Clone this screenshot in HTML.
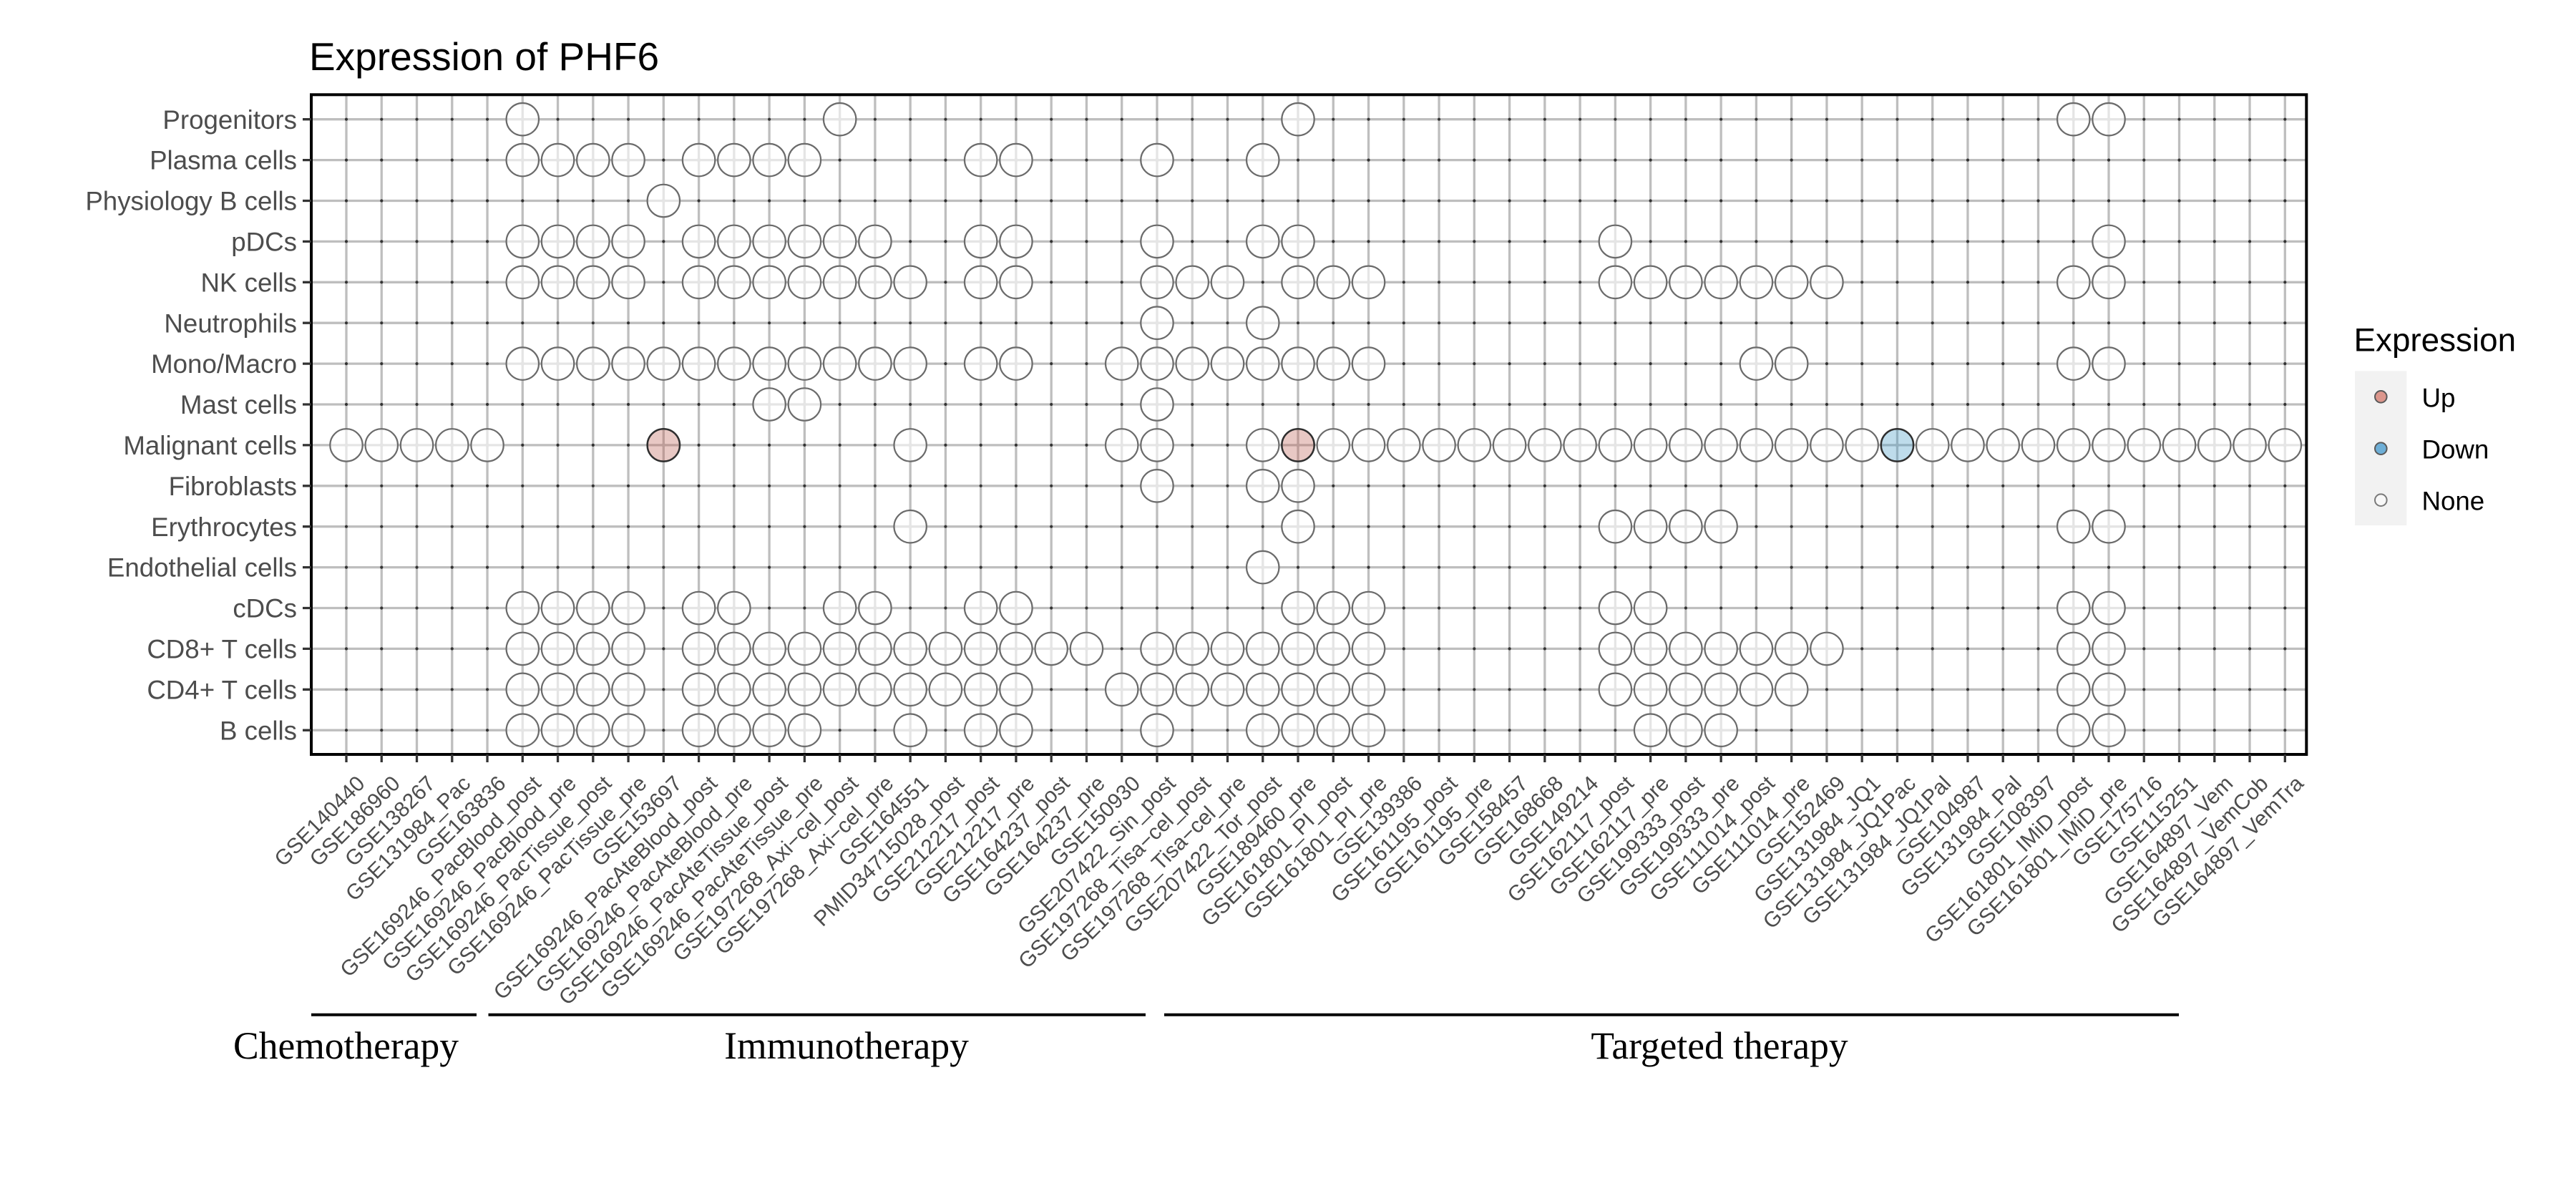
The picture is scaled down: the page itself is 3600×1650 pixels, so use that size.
<!DOCTYPE html>
<html>
<head>
<meta charset="utf-8">
<style>
html,body{margin:0;padding:0;background:#fff;}
svg{display:block;}
</style>
</head>
<body>
<svg xmlns="http://www.w3.org/2000/svg" width="3600" height="1650" viewBox="0 0 3600 1650" font-family="'Liberation Sans', Arial, sans-serif">
<defs>
<g id="n"><circle r="2.8" fill="#bebebe"/><circle r="22.7" fill="#ffffff" fill-opacity="0.6" stroke="#6b6b6b" stroke-width="2.2"/></g>
<g id="u"><circle r="2.8" fill="#bebebe"/><circle r="22.7" fill="rgb(189,98,86)" fill-opacity="0.35" stroke="#2e2e2e" stroke-width="2.5"/></g>
<g id="d"><circle r="2.8" fill="#bebebe"/><circle r="22.7" fill="rgb(69,155,198)" fill-opacity="0.35" stroke="#2e2e2e" stroke-width="2.5"/></g>
</defs>
<rect width="3600" height="1650" fill="#fff"/>

<text x="432" y="98" font-size="55" fill="#000">Expression of PHF6</text>

<!-- grid -->
<line x1="482.35" y1="593.15" x2="3195" y2="593.15" stroke="#bebebe" stroke-width="921.7" stroke-dasharray="3.3 45.96"/>
<line x1="1829.15" y1="165.05" x2="1829.15" y2="1022" stroke="#bebebe" stroke-width="2788.3" stroke-dasharray="3.3 53.6"/>

<!-- dots -->
<g stroke="#333" stroke-width="4.2" stroke-linecap="round" stroke-dasharray="0.01 49.25">
<line x1="484" y1="166.7" x2="3194" y2="166.7"/>
<line x1="484" y1="223.6" x2="3194" y2="223.6"/>
<line x1="484" y1="280.5" x2="3194" y2="280.5"/>
<line x1="484" y1="337.4" x2="3194" y2="337.4"/>
<line x1="484" y1="394.3" x2="3194" y2="394.3"/>
<line x1="484" y1="451.2" x2="3194" y2="451.2"/>
<line x1="484" y1="508.1" x2="3194" y2="508.1"/>
<line x1="484" y1="565" x2="3194" y2="565"/>
<line x1="484" y1="621.9" x2="3194" y2="621.9"/>
<line x1="484" y1="678.8" x2="3194" y2="678.8"/>
<line x1="484" y1="735.7" x2="3194" y2="735.7"/>
<line x1="484" y1="792.6" x2="3194" y2="792.6"/>
<line x1="484" y1="849.5" x2="3194" y2="849.5"/>
<line x1="484" y1="906.4" x2="3194" y2="906.4"/>
<line x1="484" y1="963.3" x2="3194" y2="963.3"/>
<line x1="484" y1="1020.2" x2="3194" y2="1020.2"/>
</g>

<!-- circles -->
<g transform="translate(0,166.7)">
<use href="#n" x="730.3"/><use href="#n" x="1173.64"/><use href="#n" x="1814.02"/><use href="#n" x="2897.74"/><use href="#n" x="2947"/>
</g>
<g transform="translate(0,223.6)">
<use href="#n" x="730.3"/><use href="#n" x="779.56"/><use href="#n" x="828.82"/><use href="#n" x="878.08"/><use href="#n" x="976.6"/><use href="#n" x="1025.86"/><use href="#n" x="1075.12"/><use href="#n" x="1124.38"/><use href="#n" x="1370.68"/><use href="#n" x="1419.94"/><use href="#n" x="1616.98"/><use href="#n" x="1764.76"/>
</g>
<g transform="translate(0,280.5)">
<use href="#n" x="927.34"/>
</g>
<g transform="translate(0,337.4)">
<use href="#n" x="730.3"/><use href="#n" x="779.56"/><use href="#n" x="828.82"/><use href="#n" x="878.08"/><use href="#n" x="976.6"/><use href="#n" x="1025.86"/><use href="#n" x="1075.12"/><use href="#n" x="1124.38"/><use href="#n" x="1173.64"/><use href="#n" x="1222.9"/><use href="#n" x="1370.68"/><use href="#n" x="1419.94"/><use href="#n" x="1616.98"/><use href="#n" x="1764.76"/><use href="#n" x="1814.02"/><use href="#n" x="2257.36"/><use href="#n" x="2947"/>
</g>
<g transform="translate(0,394.3)">
<use href="#n" x="730.3"/><use href="#n" x="779.56"/><use href="#n" x="828.82"/><use href="#n" x="878.08"/><use href="#n" x="976.6"/><use href="#n" x="1025.86"/><use href="#n" x="1075.12"/><use href="#n" x="1124.38"/><use href="#n" x="1173.64"/><use href="#n" x="1222.9"/><use href="#n" x="1272.16"/><use href="#n" x="1370.68"/><use href="#n" x="1419.94"/><use href="#n" x="1616.98"/><use href="#n" x="1666.24"/><use href="#n" x="1715.5"/><use href="#n" x="1814.02"/><use href="#n" x="1863.28"/><use href="#n" x="1912.54"/><use href="#n" x="2257.36"/><use href="#n" x="2306.62"/><use href="#n" x="2355.88"/><use href="#n" x="2405.14"/><use href="#n" x="2454.4"/><use href="#n" x="2503.66"/><use href="#n" x="2552.92"/><use href="#n" x="2897.74"/><use href="#n" x="2947"/>
</g>
<g transform="translate(0,451.2)">
<use href="#n" x="1616.98"/><use href="#n" x="1764.76"/>
</g>
<g transform="translate(0,508.1)">
<use href="#n" x="730.3"/><use href="#n" x="779.56"/><use href="#n" x="828.82"/><use href="#n" x="878.08"/><use href="#n" x="927.34"/><use href="#n" x="976.6"/><use href="#n" x="1025.86"/><use href="#n" x="1075.12"/><use href="#n" x="1124.38"/><use href="#n" x="1173.64"/><use href="#n" x="1222.9"/><use href="#n" x="1272.16"/><use href="#n" x="1370.68"/><use href="#n" x="1419.94"/><use href="#n" x="1567.72"/><use href="#n" x="1616.98"/><use href="#n" x="1666.24"/><use href="#n" x="1715.5"/><use href="#n" x="1764.76"/><use href="#n" x="1814.02"/><use href="#n" x="1863.28"/><use href="#n" x="1912.54"/><use href="#n" x="2454.4"/><use href="#n" x="2503.66"/><use href="#n" x="2897.74"/><use href="#n" x="2947"/>
</g>
<g transform="translate(0,565)">
<use href="#n" x="1075.12"/><use href="#n" x="1124.38"/><use href="#n" x="1616.98"/>
</g>
<g transform="translate(0,621.9)">
<use href="#n" x="484"/><use href="#n" x="533.26"/><use href="#n" x="582.52"/><use href="#n" x="631.78"/><use href="#n" x="681.04"/><use href="#u" x="927.34"/><use href="#n" x="1272.16"/><use href="#n" x="1567.72"/><use href="#n" x="1616.98"/><use href="#n" x="1764.76"/><use href="#u" x="1814.02"/><use href="#n" x="1863.28"/><use href="#n" x="1912.54"/><use href="#n" x="1961.8"/><use href="#n" x="2011.06"/><use href="#n" x="2060.32"/><use href="#n" x="2109.58"/><use href="#n" x="2158.84"/><use href="#n" x="2208.1"/><use href="#n" x="2257.36"/><use href="#n" x="2306.62"/><use href="#n" x="2355.88"/><use href="#n" x="2405.14"/><use href="#n" x="2454.4"/><use href="#n" x="2503.66"/><use href="#n" x="2552.92"/><use href="#n" x="2602.18"/><use href="#d" x="2651.44"/><use href="#n" x="2700.7"/><use href="#n" x="2749.96"/><use href="#n" x="2799.22"/><use href="#n" x="2848.48"/><use href="#n" x="2897.74"/><use href="#n" x="2947"/><use href="#n" x="2996.26"/><use href="#n" x="3045.52"/><use href="#n" x="3094.78"/><use href="#n" x="3144.04"/><use href="#n" x="3193.3"/>
</g>
<g transform="translate(0,678.8)">
<use href="#n" x="1616.98"/><use href="#n" x="1764.76"/><use href="#n" x="1814.02"/>
</g>
<g transform="translate(0,735.7)">
<use href="#n" x="1272.16"/><use href="#n" x="1814.02"/><use href="#n" x="2257.36"/><use href="#n" x="2306.62"/><use href="#n" x="2355.88"/><use href="#n" x="2405.14"/><use href="#n" x="2897.74"/><use href="#n" x="2947"/>
</g>
<g transform="translate(0,792.6)">
<use href="#n" x="1764.76"/>
</g>
<g transform="translate(0,849.5)">
<use href="#n" x="730.3"/><use href="#n" x="779.56"/><use href="#n" x="828.82"/><use href="#n" x="878.08"/><use href="#n" x="976.6"/><use href="#n" x="1025.86"/><use href="#n" x="1173.64"/><use href="#n" x="1222.9"/><use href="#n" x="1370.68"/><use href="#n" x="1419.94"/><use href="#n" x="1814.02"/><use href="#n" x="1863.28"/><use href="#n" x="1912.54"/><use href="#n" x="2257.36"/><use href="#n" x="2306.62"/><use href="#n" x="2897.74"/><use href="#n" x="2947"/>
</g>
<g transform="translate(0,906.4)">
<use href="#n" x="730.3"/><use href="#n" x="779.56"/><use href="#n" x="828.82"/><use href="#n" x="878.08"/><use href="#n" x="976.6"/><use href="#n" x="1025.86"/><use href="#n" x="1075.12"/><use href="#n" x="1124.38"/><use href="#n" x="1173.64"/><use href="#n" x="1222.9"/><use href="#n" x="1272.16"/><use href="#n" x="1321.42"/><use href="#n" x="1370.68"/><use href="#n" x="1419.94"/><use href="#n" x="1469.2"/><use href="#n" x="1518.46"/><use href="#n" x="1616.98"/><use href="#n" x="1666.24"/><use href="#n" x="1715.5"/><use href="#n" x="1764.76"/><use href="#n" x="1814.02"/><use href="#n" x="1863.28"/><use href="#n" x="1912.54"/><use href="#n" x="2257.36"/><use href="#n" x="2306.62"/><use href="#n" x="2355.88"/><use href="#n" x="2405.14"/><use href="#n" x="2454.4"/><use href="#n" x="2503.66"/><use href="#n" x="2552.92"/><use href="#n" x="2897.74"/><use href="#n" x="2947"/>
</g>
<g transform="translate(0,963.3)">
<use href="#n" x="730.3"/><use href="#n" x="779.56"/><use href="#n" x="828.82"/><use href="#n" x="878.08"/><use href="#n" x="976.6"/><use href="#n" x="1025.86"/><use href="#n" x="1075.12"/><use href="#n" x="1124.38"/><use href="#n" x="1173.64"/><use href="#n" x="1222.9"/><use href="#n" x="1272.16"/><use href="#n" x="1321.42"/><use href="#n" x="1370.68"/><use href="#n" x="1419.94"/><use href="#n" x="1567.72"/><use href="#n" x="1616.98"/><use href="#n" x="1666.24"/><use href="#n" x="1715.5"/><use href="#n" x="1764.76"/><use href="#n" x="1814.02"/><use href="#n" x="1863.28"/><use href="#n" x="1912.54"/><use href="#n" x="2257.36"/><use href="#n" x="2306.62"/><use href="#n" x="2355.88"/><use href="#n" x="2405.14"/><use href="#n" x="2454.4"/><use href="#n" x="2503.66"/><use href="#n" x="2897.74"/><use href="#n" x="2947"/>
</g>
<g transform="translate(0,1020.2)">
<use href="#n" x="730.3"/><use href="#n" x="779.56"/><use href="#n" x="828.82"/><use href="#n" x="878.08"/><use href="#n" x="976.6"/><use href="#n" x="1025.86"/><use href="#n" x="1075.12"/><use href="#n" x="1124.38"/><use href="#n" x="1272.16"/><use href="#n" x="1370.68"/><use href="#n" x="1419.94"/><use href="#n" x="1616.98"/><use href="#n" x="1764.76"/><use href="#n" x="1814.02"/><use href="#n" x="1863.28"/><use href="#n" x="1912.54"/><use href="#n" x="2306.62"/><use href="#n" x="2355.88"/><use href="#n" x="2405.14"/><use href="#n" x="2897.74"/><use href="#n" x="2947"/>
</g>

<!-- panel border -->
<rect x="435" y="132.3" width="2788.3" height="921.7" fill="none" stroke="#000" stroke-width="4"/>

<!-- ticks -->
<line x1="482.35" y1="1059.5" x2="3195" y2="1059.5" stroke="#333" stroke-width="11" stroke-dasharray="3.3 45.96"/>
<line x1="429" y1="165.05" x2="429" y2="1022" stroke="#333" stroke-width="12" stroke-dasharray="3.3 53.6"/>

<!-- y labels -->
<g font-size="36.7" fill="#4d4d4d" text-anchor="end">
<text x="415" y="179.8">Progenitors</text>
<text x="415" y="236.7">Plasma cells</text>
<text x="415" y="293.6">Physiology B cells</text>
<text x="415" y="350.5">pDCs</text>
<text x="415" y="407.4">NK cells</text>
<text x="415" y="464.3">Neutrophils</text>
<text x="415" y="521.2">Mono/Macro</text>
<text x="415" y="578.1">Mast cells</text>
<text x="415" y="635">Malignant cells</text>
<text x="415" y="691.9">Fibroblasts</text>
<text x="415" y="748.8">Erythrocytes</text>
<text x="415" y="805.7">Endothelial cells</text>
<text x="415" y="862.6">cDCs</text>
<text x="415" y="919.5">CD8+ T cells</text>
<text x="415" y="976.4">CD4+ T cells</text>
<text x="415" y="1033.3">B cells</text>
</g>

<!-- x labels -->
<g font-size="30" fill="#4d4d4d" text-anchor="end">
<text transform="translate(511.5,1096.5) rotate(-45)">GSE140440</text>
<text transform="translate(560.76,1096.5) rotate(-45)">GSE186960</text>
<text transform="translate(610.02,1096.5) rotate(-45)">GSE138267</text>
<text transform="translate(659.28,1096.5) rotate(-45)">GSE131984_Pac</text>
<text transform="translate(708.54,1096.5) rotate(-45)">GSE163836</text>
<text transform="translate(757.8,1096.5) rotate(-45)">GSE169246_PacBlood_post</text>
<text transform="translate(807.06,1096.5) rotate(-45)">GSE169246_PacBlood_pre</text>
<text transform="translate(856.32,1096.5) rotate(-45)">GSE169246_PacTissue_post</text>
<text transform="translate(905.58,1096.5) rotate(-45)">GSE169246_PacTissue_pre</text>
<text transform="translate(954.84,1096.5) rotate(-45)">GSE153697</text>
<text transform="translate(1004.1,1096.5) rotate(-45)">GSE169246_PacAteBlood_post</text>
<text transform="translate(1053.36,1096.5) rotate(-45)">GSE169246_PacAteBlood_pre</text>
<text transform="translate(1102.62,1096.5) rotate(-45)">GSE169246_PacAteTissue_post</text>
<text transform="translate(1151.88,1096.5) rotate(-45)">GSE169246_PacAteTissue_pre</text>
<text transform="translate(1201.14,1096.5) rotate(-45)">GSE197268_Axi−cel_post</text>
<text transform="translate(1250.4,1096.5) rotate(-45)">GSE197268_Axi−cel_pre</text>
<text transform="translate(1299.66,1096.5) rotate(-45)">GSE164551</text>
<text transform="translate(1348.92,1096.5) rotate(-45)">PMID34715028_post</text>
<text transform="translate(1398.18,1096.5) rotate(-45)">GSE212217_post</text>
<text transform="translate(1447.44,1096.5) rotate(-45)">GSE212217_pre</text>
<text transform="translate(1496.7,1096.5) rotate(-45)">GSE164237_post</text>
<text transform="translate(1545.96,1096.5) rotate(-45)">GSE164237_pre</text>
<text transform="translate(1595.22,1096.5) rotate(-45)">GSE150930</text>
<text transform="translate(1644.48,1096.5) rotate(-45)">GSE207422_Sin_post</text>
<text transform="translate(1693.74,1096.5) rotate(-45)">GSE197268_Tisa−cel_post</text>
<text transform="translate(1743,1096.5) rotate(-45)">GSE197268_Tisa−cel_pre</text>
<text transform="translate(1792.26,1096.5) rotate(-45)">GSE207422_Tor_post</text>
<text transform="translate(1841.52,1096.5) rotate(-45)">GSE189460_pre</text>
<text transform="translate(1890.78,1096.5) rotate(-45)">GSE161801_PI_post</text>
<text transform="translate(1940.04,1096.5) rotate(-45)">GSE161801_PI_pre</text>
<text transform="translate(1989.3,1096.5) rotate(-45)">GSE139386</text>
<text transform="translate(2038.56,1096.5) rotate(-45)">GSE161195_post</text>
<text transform="translate(2087.82,1096.5) rotate(-45)">GSE161195_pre</text>
<text transform="translate(2137.08,1096.5) rotate(-45)">GSE158457</text>
<text transform="translate(2186.34,1096.5) rotate(-45)">GSE168668</text>
<text transform="translate(2235.6,1096.5) rotate(-45)">GSE149214</text>
<text transform="translate(2284.86,1096.5) rotate(-45)">GSE162117_post</text>
<text transform="translate(2334.12,1096.5) rotate(-45)">GSE162117_pre</text>
<text transform="translate(2383.38,1096.5) rotate(-45)">GSE199333_post</text>
<text transform="translate(2432.64,1096.5) rotate(-45)">GSE199333_pre</text>
<text transform="translate(2481.9,1096.5) rotate(-45)">GSE111014_post</text>
<text transform="translate(2531.16,1096.5) rotate(-45)">GSE111014_pre</text>
<text transform="translate(2580.42,1096.5) rotate(-45)">GSE152469</text>
<text transform="translate(2629.68,1096.5) rotate(-45)">GSE131984_JQ1</text>
<text transform="translate(2678.94,1096.5) rotate(-45)">GSE131984_JQ1Pac</text>
<text transform="translate(2728.2,1096.5) rotate(-45)">GSE131984_JQ1Pal</text>
<text transform="translate(2777.46,1096.5) rotate(-45)">GSE104987</text>
<text transform="translate(2826.72,1096.5) rotate(-45)">GSE131984_Pal</text>
<text transform="translate(2875.98,1096.5) rotate(-45)">GSE108397</text>
<text transform="translate(2925.24,1096.5) rotate(-45)">GSE161801_IMiD_post</text>
<text transform="translate(2974.5,1096.5) rotate(-45)">GSE161801_IMiD_pre</text>
<text transform="translate(3023.76,1096.5) rotate(-45)">GSE175716</text>
<text transform="translate(3073.02,1096.5) rotate(-45)">GSE115251</text>
<text transform="translate(3122.28,1096.5) rotate(-45)">GSE164897_Vem</text>
<text transform="translate(3171.54,1096.5) rotate(-45)">GSE164897_VemCob</text>
<text transform="translate(3220.8,1096.5) rotate(-45)">GSE164897_VemTra</text>
</g>

<!-- legend -->
<text x="3289.5" y="490.7" font-size="45.8" fill="#000">Expression</text>
<rect x="3291" y="518.3" width="72.3" height="215.7" fill="#f2f2f2"/>
<circle cx="3327.3" cy="554.3" r="8.3" fill="#dc968c" stroke="#5a5a5a" stroke-width="2"/>
<circle cx="3327.3" cy="626.7" r="8.3" fill="#6eafd7" stroke="#5a5a5a" stroke-width="2"/>
<circle cx="3327.3" cy="698.7" r="8.3" fill="#f8f8f8" stroke="#7a7a7a" stroke-width="2"/>
<g font-size="36.7" fill="#000">
<text x="3384.5" y="568.3">Up</text>
<text x="3384.5" y="640.7">Down</text>
<text x="3384.5" y="712.7">None</text>
</g>

<!-- therapy brackets -->
<g stroke="#000" stroke-width="4">
<line x1="435" y1="1417.8" x2="666" y2="1417.8"/>
<line x1="682.5" y1="1417.8" x2="1601" y2="1417.8"/>
<line x1="1627" y1="1417.8" x2="3045" y2="1417.8"/>
</g>
<g font-family="'Liberation Serif', 'Times New Roman', serif" font-size="53.5" fill="#000" text-anchor="middle">
<text x="483.5" y="1479">Chemotherapy</text>
<text x="1183" y="1479">Immunotherapy</text>
<text x="2403" y="1479">Targeted therapy</text>
</g>
</svg>
</body>
</html>
